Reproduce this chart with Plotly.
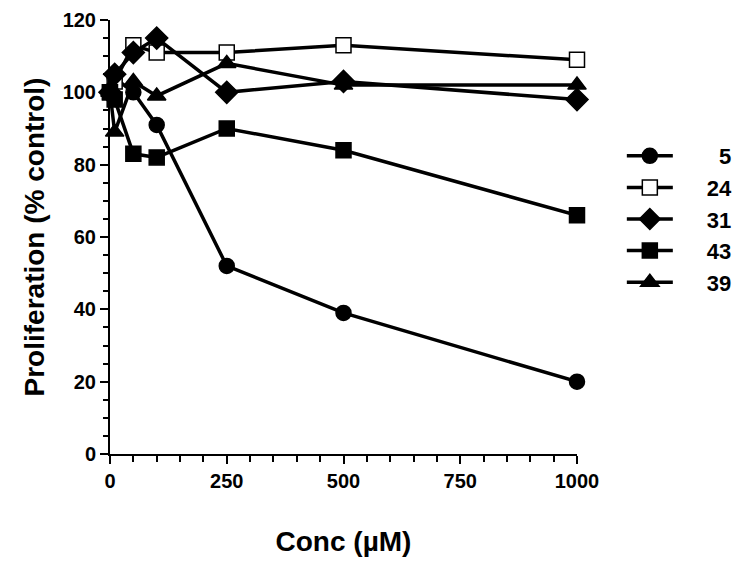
import plotly.graph_objects as go

conc = [0, 10, 50, 100, 250, 500, 1000]
series_names = ["5", "24", "31", "43", "39"]
s5 = [100, 104, 100, 91, 52, 39, 20]
s24 = [100, 103, 113, 111, 111, 113, 109]
s31 = [100, 105, 111, 115, 100, 103, 98]
s43 = [100, 98, 83, 82, 90, 84, 66]
s39 = [100, 89, 103, 99, 108, 102, 102]

values = [s5, s24, s31, s43, s39]
symbols = ["circle", "square", "diamond", "square", "triangle-up"]
fills = ["black", "white", "black", "black", "black"]
sizes = [15, 15, 17, 15, 16]

FONT = "Liberation Sans, Arial, sans-serif"
fig = go.Figure()
for name, ys, sym, fc, sz in zip(series_names, values, symbols, fills, sizes):
    pad = "\u2007\u2007\u2009" + ("\u2007" * (2 - len(name)))
    fig.add_trace(go.Scatter(
        x=conc, y=ys, mode="lines+markers", name=pad + name,
        line=dict(color="black", width=3.5),
        marker=dict(symbol=sym, size=sz, color=fc, line=dict(color="black", width=1.5)),
        cliponaxis=False,
    ))

fig.update_layout(
    width=750, height=567,
    paper_bgcolor="white", plot_bgcolor="white",
    margin=dict(l=102, r=181, t=12, b=121),
    font=dict(family=FONT, size=20, color="black", weight="bold"),
    showlegend=True,
    legend=dict(x=1.096, y=0.735, xanchor="left", yanchor="top",
                font=dict(size=22, family=FONT, weight="bold"),
                itemwidth=46, tracegroupgap=0, bgcolor="rgba(0,0,0,0)"),
    xaxis=dict(
        range=[0, 1000], tickvals=[0, 250, 500, 750, 1000],
        showline=True, linecolor="black", linewidth=2,
        ticks="outside", ticklen=8, tickwidth=2, tickcolor="black",
        minor=dict(dtick=50, ticks="outside", ticklen=6, tickwidth=2, tickcolor="black", showgrid=False),
        showgrid=False, zeroline=False, automargin=False,
        tickfont=dict(size=20, family=FONT, weight="bold"),
        title=dict(text="Conc (µM)", font=dict(size=28, family=FONT, weight="bold"), standoff=40),
    ),
    yaxis=dict(
        range=[0, 120], dtick=20,
        showline=True, linecolor="black", linewidth=2,
        ticks="outside", ticklen=8, tickwidth=2, tickcolor="black",
        minor=dict(dtick=5, ticks="outside", ticklen=5, tickwidth=2, tickcolor="black", showgrid=False),
        showgrid=False, zeroline=False, automargin=False,
        tickfont=dict(size=20, family=FONT, weight="bold"),
        title=dict(text="Proliferation (% control)", font=dict(size=28, family=FONT, weight="bold"), standoff=10),
    ),
)

fig.write_html("out.html")
